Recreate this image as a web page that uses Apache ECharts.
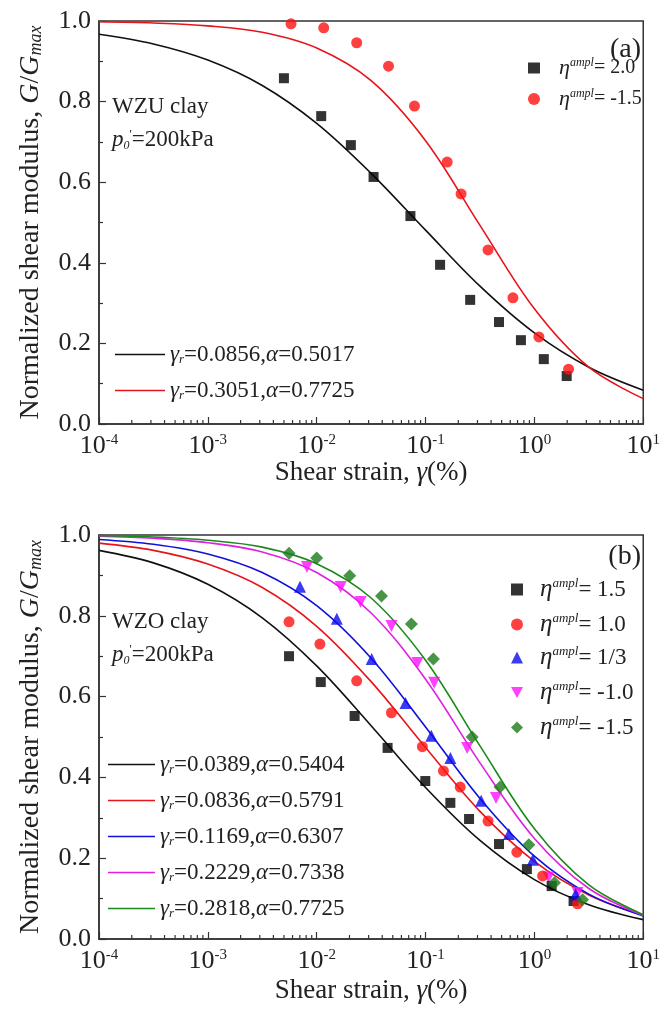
<!DOCTYPE html>
<html>
<head>
<meta charset="utf-8">
<script src="https://cdn.jsdelivr.net/npm/echarts@6/dist/echarts.min.js"></script>
<style>
html,body{margin:0;padding:0;background:#fff;}
#main{width:663px;height:1034px;}
</style>
</head>
<body>
<div id="main"></div>
<script>
// 拟合曲线采样点 (半个数量级一个点)
var curveX = [1e-4, 3.162e-4, 1e-3, 3.162e-3, 0.01, 0.03162, 0.1, 0.3162, 1, 3.162, 10];
var aFit1 = [0.967, 0.943, 0.903, 0.840, 0.746, 0.622, 0.481, 0.342, 0.226, 0.141, 0.084];
var aFit2 = [0.998, 0.995, 0.988, 0.972, 0.933, 0.852, 0.703, 0.493, 0.286, 0.141, 0.063];
var bFit1 = [0.962, 0.931, 0.878, 0.795, 0.676, 0.528, 0.375, 0.244, 0.147, 0.085, 0.048];
var bFit2 = [0.980, 0.962, 0.928, 0.870, 0.774, 0.637, 0.474, 0.316, 0.192, 0.109, 0.059];
var bFit3 = [0.989, 0.977, 0.953, 0.907, 0.825, 0.695, 0.525, 0.348, 0.205, 0.111, 0.057];
var bFit4 = [0.997, 0.992, 0.981, 0.958, 0.907, 0.807, 0.643, 0.436, 0.249, 0.125, 0.058];
var bFit5 = [0.998, 0.995, 0.987, 0.970, 0.929, 0.844, 0.690, 0.478, 0.273, 0.134, 0.060];

// 试验点 (a)
var aSqX = [0.0050, 0.0110, 0.0206, 0.0333, 0.0726, 0.136, 0.257, 0.473, 0.752, 1.22, 1.98];
var aSqY = [0.858, 0.764, 0.692, 0.613, 0.516, 0.395, 0.308, 0.253, 0.208, 0.161, 0.119];
var aCiX = [0.00581, 0.0116, 0.0233, 0.0457, 0.0791, 0.158, 0.212, 0.375, 0.635, 1.10, 2.06];
var aCiY = [0.993, 0.983, 0.946, 0.888, 0.789, 0.650, 0.571, 0.432, 0.313, 0.216, 0.136];

// 试验点 (b)
var bSqX = [0.00557, 0.0109, 0.0223, 0.0448, 0.0995, 0.169, 0.251, 0.473, 0.853, 1.44, 2.29];
var bSqY = [0.700, 0.636, 0.552, 0.473, 0.391, 0.337, 0.297, 0.235, 0.173, 0.131, 0.094];
var bCiX = [0.00557, 0.0107, 0.0233, 0.0486, 0.0935, 0.146, 0.208, 0.375, 0.690, 1.19, 2.49];
var bCiY = [0.785, 0.730, 0.639, 0.560, 0.476, 0.416, 0.376, 0.292, 0.215, 0.156, 0.087];
var bTrX = [0.00702, 0.0153, 0.0320, 0.0654, 0.113, 0.169, 0.324, 0.583, 0.967, 2.39];
var bTrY = [0.872, 0.793, 0.693, 0.584, 0.503, 0.448, 0.342, 0.260, 0.196, 0.111];
var bDnX = [0.00813, 0.0166, 0.0253, 0.0486, 0.0841, 0.120, 0.241, 0.444, 1.35, 2.49];
var bDnY = [0.921, 0.871, 0.834, 0.775, 0.683, 0.634, 0.473, 0.349, 0.152, 0.114];
var bDiX = [0.00557, 0.0100, 0.0201, 0.0394, 0.0741, 0.118, 0.268, 0.483, 0.889, 1.53, 2.77];
var bDiY = [0.955, 0.943, 0.899, 0.849, 0.780, 0.693, 0.500, 0.376, 0.233, 0.139, 0.097];

// 刻度
var decades = [1e-4, 1e-3, 1e-2, 1e-1, 1];
var minorMul = [2, 3, 4, 5, 6, 7, 8, 9];

var SERIF = '"Liberation Serif", "DejaVu Serif", serif';
var INK = '#222';
var DOWN_TRI = 'path://M0,0L10,0L5,9Z';

var LABELS = {
  'a1': '{e|η}{sup|ampl}{t|= 2.0}',
  'a2': '{e|η}{sup|ampl}{t|= -1.5}',
  'aL1': '{g|γ}{sub|r}{t|=0.0856,}{g|α}{t|=0.5017}',
  'aL2': '{g|γ}{sub|r}{t|=0.3051,}{g|α}{t|=0.7725}',
  'b1': '{e|η}{sup|ampl}{t|= 1.5}',
  'b2': '{e|η}{sup|ampl}{t|= 1.0}',
  'b3': '{e|η}{sup|ampl}{t|= 1/3}',
  'b4': '{e|η}{sup|ampl}{t|= -1.0}',
  'b5': '{e|η}{sup|ampl}{t|= -1.5}',
  'bL1': '{g|γ}{sub|r}{t|=0.0389,}{g|α}{t|=0.5404}',
  'bL2': '{g|γ}{sub|r}{t|=0.0836,}{g|α}{t|=0.5791}',
  'bL3': '{g|γ}{sub|r}{t|=0.1169,}{g|α}{t|=0.6307}',
  'bL4': '{g|γ}{sub|r}{t|=0.2229,}{g|α}{t|=0.7338}',
  'bL5': '{g|γ}{sub|r}{t|=0.2818,}{g|α}{t|=0.7725}'
};

function richSet(big, small) {
  return {
    e: {fontFamily: SERIF, fontStyle: 'italic', fontSize: big + 2, color: INK},
    sup: {fontFamily: SERIF, fontStyle: 'italic', fontSize: small, color: INK, verticalAlign: 'top'},
    t: {fontFamily: SERIF, fontSize: big, color: INK},
    g: {fontFamily: SERIF, fontStyle: 'italic', fontSize: big, color: INK},
    sub: {fontFamily: SERIF, fontStyle: 'italic', fontSize: small, color: INK, verticalAlign: 'bottom'}
  };
}
var RICH = richSet(23, 13);
var RICH_A = richSet(20, 12);

function zip(xs, ys) {
  var out = [];
  for (var i = 0; i < xs.length; i++) out.push([xs[i], ys[i]]);
  return out;
}

function xAxisFor(gi, gap) {
  return {
    type: 'log', logBase: 10, gridIndex: gi, min: 1e-4, max: 10,
    name: '{n|Shear strain, }{g|γ}{n|(%)}',
    nameLocation: 'middle', nameGap: gap,
    nameTextStyle: {rich: {
      n: {fontFamily: SERIF, fontSize: 27, color: INK},
      g: {fontFamily: SERIF, fontStyle: 'italic', fontSize: 27, color: INK}
    }},
    axisLine: {onZero: false, lineStyle: {color: '#333', width: 1.5}},
    axisTick: {inside: true, length: 7, lineStyle: {color: '#333', width: 1.2}},
    splitLine: {show: false},
    axisLabel: {
      margin: 9, showMinLabel: true, showMaxLabel: true,
      formatter: function (v) { return '{b|10}{s|' + Math.round(Math.log10(v)) + '}'; },
      rich: {
        b: {fontFamily: SERIF, fontSize: 26, color: INK},
        s: {fontFamily: SERIF, fontSize: 15, color: INK, verticalAlign: 'top'}
      }
    }
  };
}

function yAxisFor(gi) {
  return {
    type: 'value', gridIndex: gi, min: 0, max: 1, interval: 0.2,
    name: '{n|Normalized shear modulus, }{i|G}{n|/}{i|G}{s|max}',
    nameLocation: 'middle', nameGap: 54, nameRotate: 90,
    nameTextStyle: {rich: {
      n: {fontFamily: SERIF, fontSize: 28, color: INK},
      i: {fontFamily: SERIF, fontStyle: 'italic', fontSize: 28, color: INK},
      s: {fontFamily: SERIF, fontStyle: 'italic', fontSize: 18, color: INK, verticalAlign: 'bottom'}
    }},
    axisLine: {show: true, lineStyle: {color: '#333', width: 1.5}},
    axisTick: {inside: true, length: 7, lineStyle: {color: '#333', width: 1.2}},
    minorTick: {show: true, splitNumber: 2, length: 4, lineStyle: {color: '#333', width: 1.2}},
    splitLine: {show: false},
    axisLabel: {
      margin: 8, fontFamily: SERIF, fontSize: 26, color: INK,
      formatter: function (v) { return v.toFixed(1); }
    }
  };
}

// 对数轴次刻度
var minorVals = [];
decades.forEach(function (d) { minorMul.forEach(function (m) { minorVals.push([d * m, 0]); }); });
function minorSeries(gi) {
  return {
    type: 'custom', xAxisIndex: gi, yAxisIndex: gi, silent: true, z: 1,
    data: minorVals,
    renderItem: function (params, api) {
      var p = api.coord([api.value(0), 0]);
      return {type: 'line', shape: {x1: p[0], y1: p[1], x2: p[0], y2: p[1] - 4},
        style: {stroke: '#333', lineWidth: 1.2}};
    }
  };
}

function scatter(name, gi, xs, ys, symbol, size, color) {
  return {
    type: 'scatter', name: name, xAxisIndex: gi, yAxisIndex: gi,
    data: zip(xs, ys), symbol: symbol, symbolSize: size,
    itemStyle: {color: color}, z: 3
  };
}

function fit(name, gi, ys, color) {
  return {
    type: 'line', name: name, xAxisIndex: gi, yAxisIndex: gi,
    data: zip(curveX, ys), smooth: 0.35, symbol: 'none',
    lineStyle: {color: color, width: 1.6}, itemStyle: {color: color}, z: 2
  };
}

// 散点图例：图标方形，文字用 padding 右移
function legendDot(name, cx, top, textShift, rich, size) {
  return {
    data: [name], left: cx - 6, top: top, padding: 0, orient: 'horizontal',
    itemWidth: 12, itemHeight: size || 12,
    formatter: function (n) { return LABELS[n]; },
    textStyle: {rich: rich, fontFamily: SERIF, fontSize: 22, color: INK, padding: [0, 0, 0, textShift]}
  };
}
// 曲线图例：细矩形当作线段
function legendLine(name, left, top, w) {
  return {
    data: [{name: name, icon: 'rect'}], left: left, top: top, padding: 0, orient: 'horizontal',
    itemWidth: w, itemHeight: 1.6, symbolKeepAspect: false,
    formatter: function (n) { return LABELS[n]; },
    textStyle: {rich: RICH, fontFamily: SERIF, fontSize: 23, color: INK}
  };
}

var legends = [
  legendDot('a1', 534, 57, 14, RICH_A, 11), legendDot('a2', 534, 88, 14, RICH_A, 12),
  legendLine('aL1', 115, 343, 50), legendLine('aL2', 115, 379, 50),
  legendDot('b1', 517, 577, 12, RICH), legendDot('b2', 517, 612, 12, RICH),
  legendDot('b3', 517, 645, 12, RICH), legendDot('b4', 517, 680, 12, RICH),
  legendDot('b5', 517, 715, 12, RICH),
  legendLine('bL1', 108, 753, 47), legendLine('bL2', 108, 789, 47),
  legendLine('bL3', 108, 825, 47), legendLine('bL4', 108, 861, 47),
  legendLine('bL5', 108, 897, 47)
];

var TXT = {
  n: {fontFamily: SERIF, fontSize: 23, color: INK},
  i: {fontFamily: SERIF, fontStyle: 'italic', fontSize: 23, color: INK},
  sp: {fontFamily: SERIF, fontSize: 12, color: INK, verticalAlign: 'top'},
  sb: {fontFamily: SERIF, fontStyle: 'italic', fontSize: 12, color: INK, verticalAlign: 'bottom'}
};

function note(x, y, text, align, size) {
  return {type: 'text', x: x, y: y, z: 10,
    style: {text: text, rich: TXT, textAlign: align || 'left', textVerticalAlign: 'middle',
      fontFamily: SERIF, fontSize: size || 23, fill: INK}};
}

var chart = echarts.init(document.getElementById('main'));
chart.setOption({
  animation: false,
  backgroundColor: '#fff',
  grid: [
    {left: 99, top: 21, width: 547, height: 403, show: true, borderColor: '#333', borderWidth: 1.5},
    {left: 99, top: 535, width: 547, height: 404, show: true, borderColor: '#333', borderWidth: 1.5}
  ],
  xAxis: [xAxisFor(0, 33), xAxisFor(1, 38)],
  yAxis: [yAxisFor(0), yAxisFor(1)],
  legend: legends,
  graphic: [
    note(641, 50, '(a)', 'right', 28),
    note(112, 107, '{n|WZU clay}'),
    note(112, 140, '{i|p}{sb|0}{sp|\'}{n|=200kPa}'),
    note(641, 557, '(b)', 'right', 28),
    note(112, 622, '{n|WZO clay}'),
    note(112, 655, '{i|p}{sb|0}{sp|\'}{n|=200kPa}')
  ],
  series: [
    minorSeries(0), minorSeries(1),
    fit('aL1', 0, aFit1, '#111111'),
    fit('aL2', 0, aFit2, '#e8141c'),
    scatter('a1', 0, aSqX, aSqY, 'rect', 10, '#000000'),
    scatter('a2', 0, aCiX, aCiY, 'circle', 11, '#ff1010'),
    fit('bL1', 1, bFit1, '#111111'),
    fit('bL2', 1, bFit2, '#e8141c'),
    fit('bL3', 1, bFit3, '#1010d8'),
    fit('bL4', 1, bFit4, '#e020e0'),
    fit('bL5', 1, bFit5, '#1b8a1b'),
    scatter('b4', 1, bDnX, bDnY, DOWN_TRI, 12, '#ff10ff'),
    scatter('b1', 1, bSqX, bSqY, 'rect', 10, '#000000'),
    scatter('b2', 1, bCiX, bCiY, 'circle', 11, '#ff1010'),
    scatter('b3', 1, bTrX, bTrY, 'triangle', 12, '#0a0af0'),
    scatter('b5', 1, bDiX, bDiY, 'diamond', 13, '#1a7a1a')
  ]
});
</script>
</body>
</html>
